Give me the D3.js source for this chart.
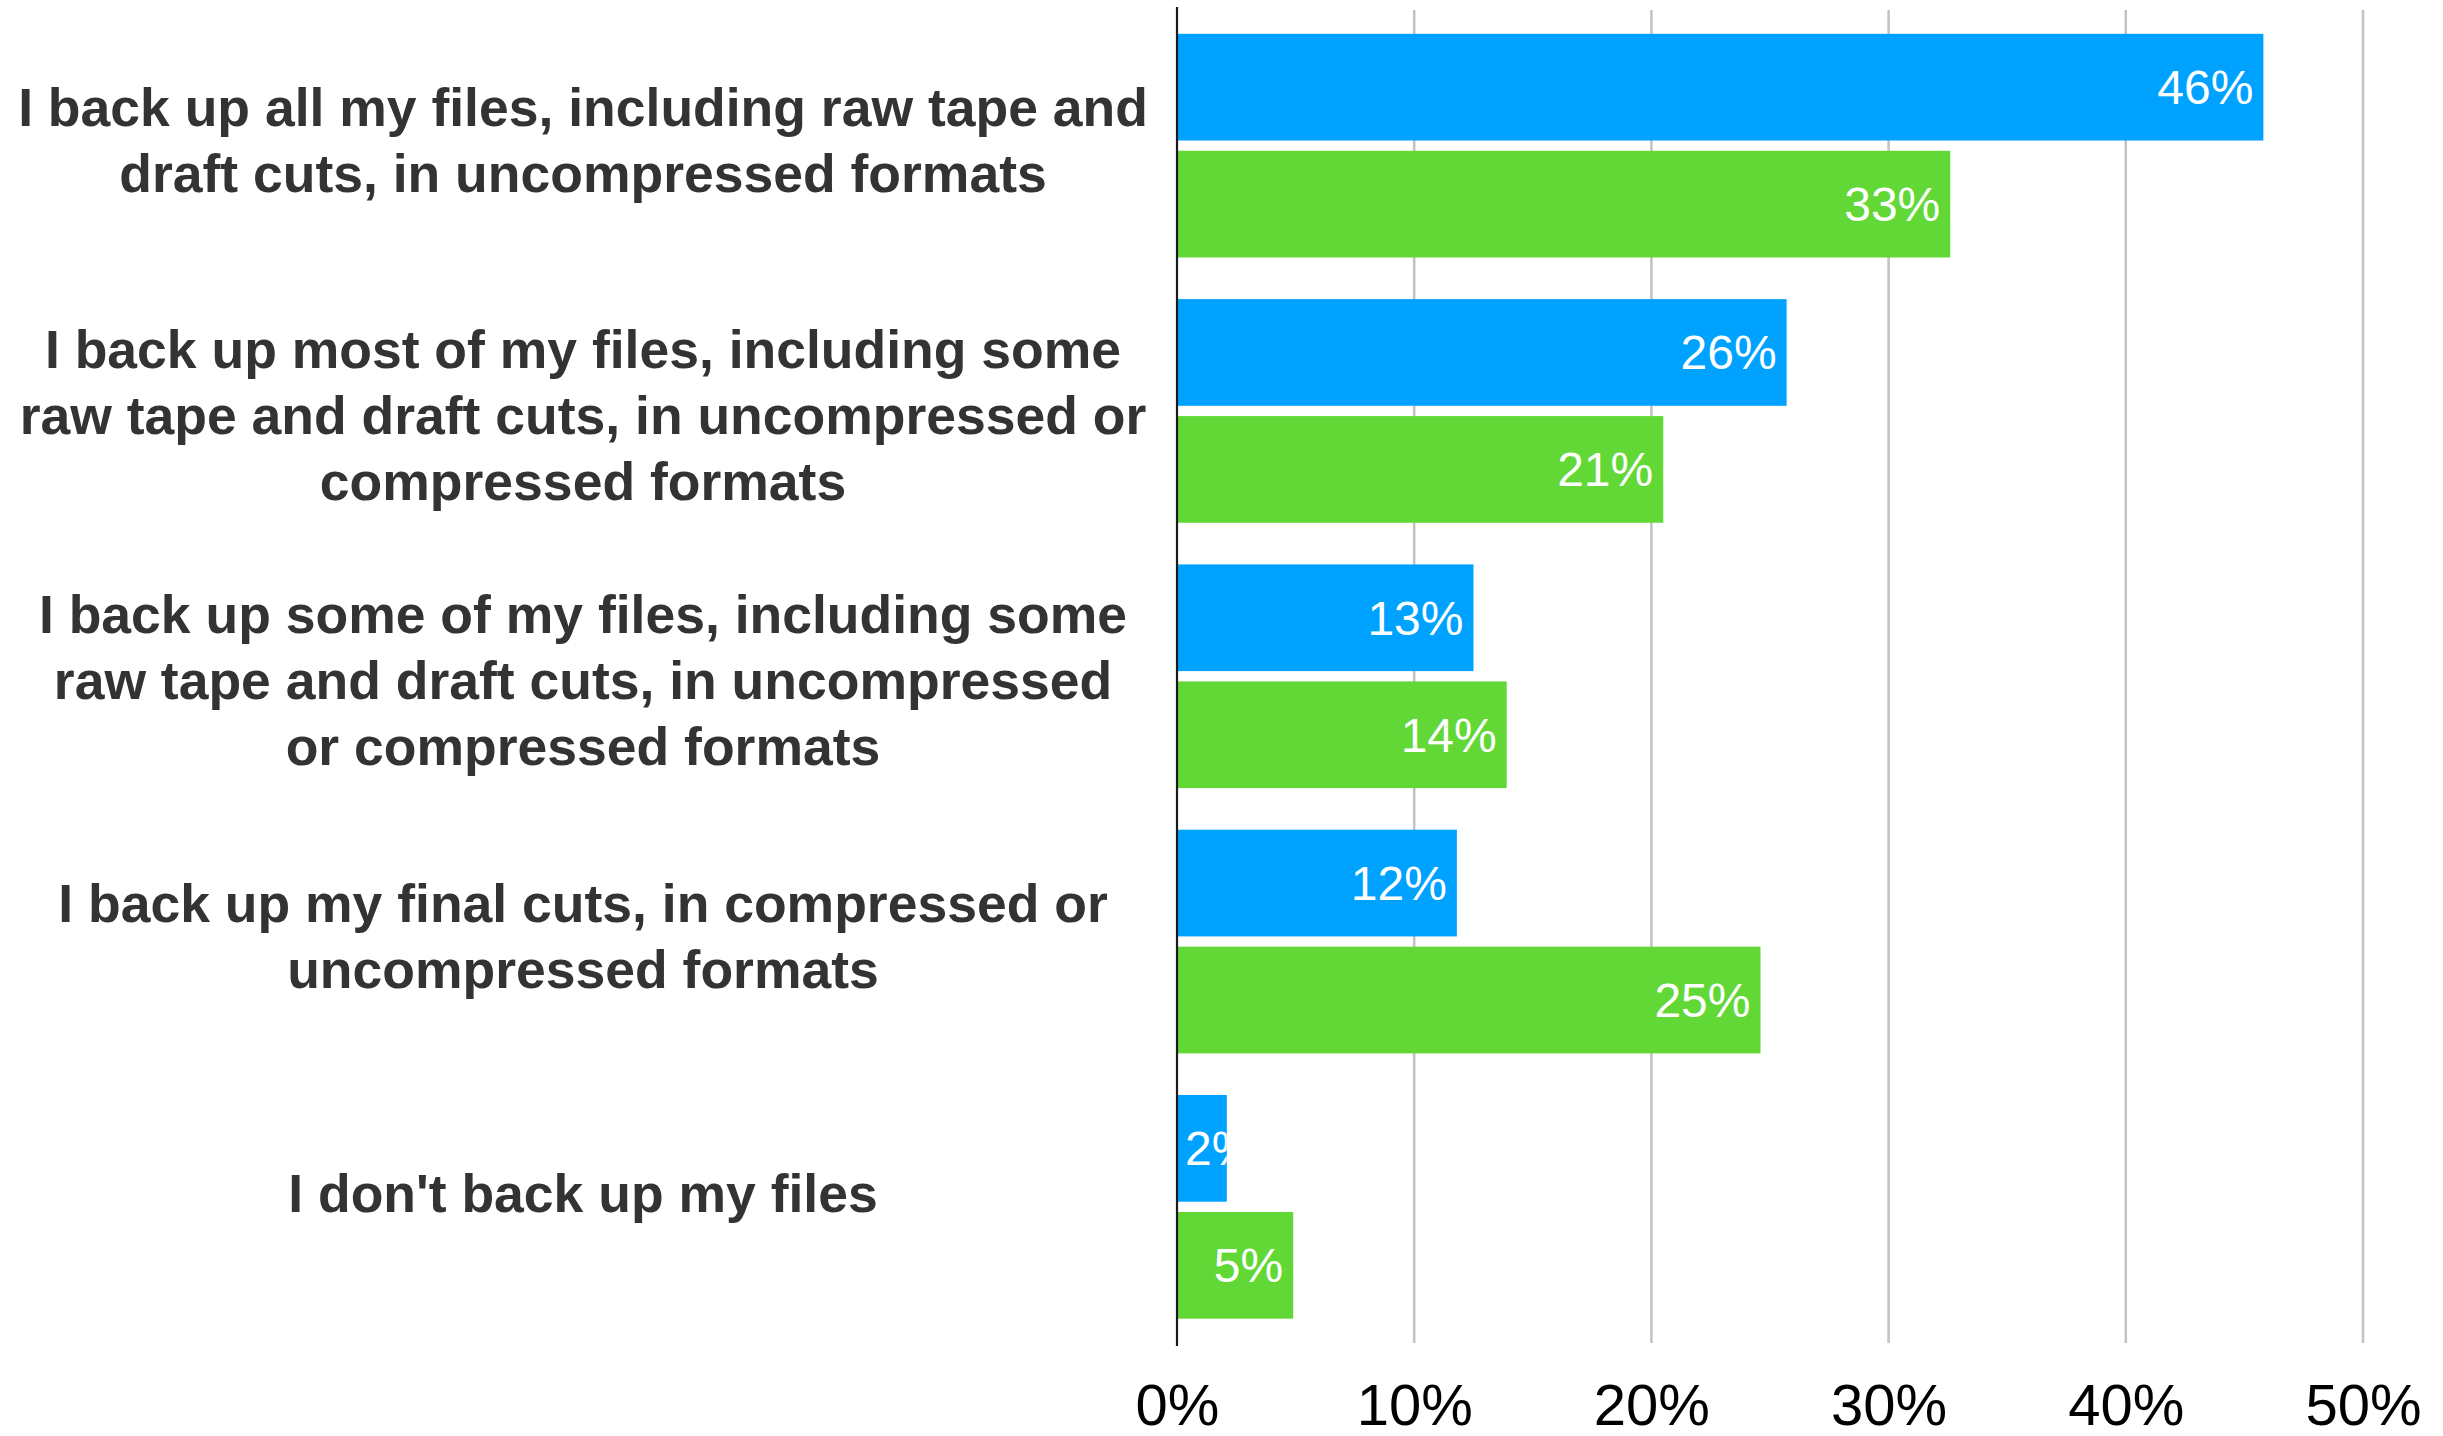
<!DOCTYPE html>
<html>
<head>
<meta charset="utf-8">
<script src="https://cdn.jsdelivr.net/npm/d3@7"></script>
<style>
  html, body { margin: 0; padding: 0; background: #fff; }
  svg { display: block; }
</style>
</head>
<body>
<svg id="chart" width="2443" height="1436"></svg>
<script>
// ---- data ----
const categories = [
  "I back up all my files, including raw tape and\ndraft cuts, in uncompressed formats",
  "I back up most of my files, including some\nraw tape and draft cuts, in uncompressed or\ncompressed formats",
  "I back up some of my files, including some\nraw tape and draft cuts, in uncompressed\nor compressed formats",
  "I back up my final cuts, in compressed or\nuncompressed formats",
  "I don't back up my files"
];
const seriesNames = ["Series A", "Series B"];
const seriesA = [45.8, 25.7, 12.5, 11.8, 2.1];
const seriesB = [32.6, 20.5, 13.9, 24.6, 4.9];
const tickValues = [0, 10, 20, 30, 40, 50];
const tickLabels = ["0%", "10%", "20%", "30%", "40%", "50%"];
const seriesColors = ["#00A2FF", "#61D836"];

// ---- layout ----
const svg = d3.select("#chart");
const x0 = 1177, x1 = 2363;
const yTop = 13, yBottom = 1339.5;
const fontFamily = "'Liberation Sans', Arial, Helvetica, sans-serif";

const x = d3.scaleLinear().domain([0, 50]).range([x0, x1]);
const y = d3.scaleBand().domain(d3.range(categories.length)).range([yTop, yBottom]).paddingInner(0).paddingOuter(0);
const ySub = d3.scaleBand().domain([0, 1]).range([0, y.bandwidth()]).paddingInner(0.088).paddingOuter(0.178);

const rows = [];
categories.forEach((c, i) => {
  [seriesA, seriesB].forEach((s, j) => rows.push({ cat: i, series: j, value: s[i] }));
});

// gridlines
svg.append("g")
  .selectAll("line")
  .data(tickValues.slice(1))
  .join("line")
  .attr("x1", d => x(d)).attr("x2", d => x(d))
  .attr("y1", 10).attr("y2", 1343)
  .attr("stroke", "#c2c2c2")
  .attr("stroke-width", 2.5);

// clip paths & bars
const defs = svg.append("defs");
rows.forEach((r, k) => {
  defs.append("clipPath").attr("id", "clip" + k)
    .append("rect")
    .attr("x", x(0))
    .attr("y", y(r.cat) + ySub(r.series))
    .attr("width", x(r.value) - x(0))
    .attr("height", ySub.bandwidth());
});

svg.append("g")
  .selectAll("rect")
  .data(rows)
  .join("rect")
  .attr("x", x(0))
  .attr("y", d => y(d.cat) + ySub(d.series))
  .attr("width", d => x(d.value) - x(0))
  .attr("height", ySub.bandwidth())
  .attr("fill", d => seriesColors[d.series]);

// value labels
const labelG = svg.append("g");
rows.forEach((r, k) => {
  const t = labelG.append("text")
    .attr("clip-path", "url(#clip" + k + ")")
    .attr("font-family", fontFamily)
    .attr("font-size", 48)
    .attr("fill", "#fff")
    .attr("y", y(r.cat) + ySub(r.series) + ySub.bandwidth() / 2 + 17)
    .text(Math.round(r.value) + "%");
  const w = t.node().getComputedTextLength();
  const tx = Math.max(x(r.value) - 10 - w, x(0) + 8);
  t.attr("x", tx);
});

// axis line
svg.append("line")
  .attr("x1", x(0)).attr("x2", x(0))
  .attr("y1", 7).attr("y2", 1346)
  .attr("stroke", "#1a1a1a")
  .attr("stroke-width", 2.2);

// x-axis tick labels
const xAxis = d3.axisBottom(x).tickValues(tickValues).tickFormat((d, i) => tickLabels[i]).tickSize(0).tickPadding(0);
const axG = svg.append("g").attr("transform", "translate(0,1425)").call(xAxis);
axG.select(".domain").remove();
axG.selectAll("text")
  .attr("font-family", fontFamily)
  .attr("font-size", 58)
  .attr("fill", "#000")
  .attr("dy", 0)
  .attr("y", 0);

// category labels
const lineH = 66;
const labelX = 583;
const lineCountShift = { 1: -6, 2: 2, 3: 12 };
const catG = svg.append("g");
categories.forEach((c, i) => {
  const lines = c.split("\n");
  const cy = y(i) + y.bandwidth() / 2 + lineCountShift[lines.length];
  const firstBase = cy - (lines.length - 1) * lineH / 2 + 11;
  const t = catG.append("text")
    .attr("font-family", fontFamily)
    .attr("font-weight", "bold")
    .attr("font-size", 53.5)
    .attr("fill", "#333333")
    .attr("text-anchor", "middle");
  lines.forEach((ln, li) => {
    t.append("tspan").attr("x", labelX).attr("y", firstBase + li * lineH).text(ln);
  });
});
</script>
</body>
</html>
